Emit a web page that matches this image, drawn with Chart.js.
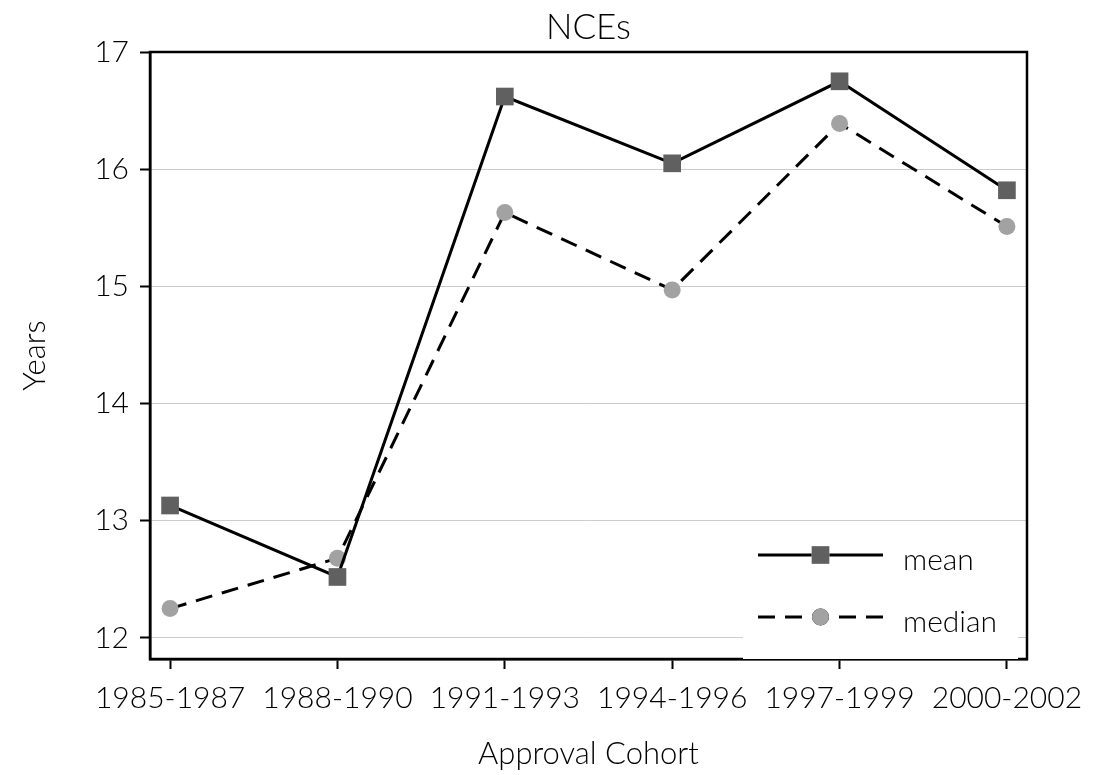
<!DOCTYPE html>
<html>
<head>
<meta charset="utf-8">
<script src="https://cdn.jsdelivr.net/npm/chart.js@4/dist/chart.umd.min.js"></script>
<style>
  html, body { margin: 0; padding: 0; background: #fff; }
  #wrap { width: 1112px; height: 775px; }
</style>
</head>
<body>
<div id="wrap"><canvas id="nceChart" width="1112" height="775"></canvas></div>
<script>
// Approval cohorts along the x axis
const cohorts = ['1985-1987', '1988-1990', '1991-1993', '1994-1996', '1997-1999', '2000-2002'];
// Development time in years
const meanYears = [13.13, 12.52, 16.62, 16.05, 16.75, 15.82];
const medianYears = [12.25, 12.68, 15.63, 14.97, 16.39, 15.51];
const yTicks = [12, 13, 14, 15, 16, 17];

const FONT = 'Lato, "Open Sans", sans-serif';

// box round the plot area + title centred over it
const frame = {
  id: 'frame',
  afterDatasetsDraw(chart) {
    const a = chart.chartArea;
    const c = chart.ctx;
    c.save();
    c.strokeStyle = '#000';
    c.lineWidth = 2.5;
    c.strokeRect(a.left, a.top, a.right - a.left, a.bottom - a.top);
    c.fillStyle = '#000';
    c.font = '300 35px ' + FONT;
    c.textAlign = 'center';
    c.textBaseline = 'alphabetic';
    c.fillText('NCEs', (a.left + a.right) / 2, 39);
    c.restore();
  }
};

// legend drawn inside the plot, bottom right, line + marker + label
const insideLegend = {
  id: 'insideLegend',
  afterDatasetsDraw(chart) {
    const a = chart.chartArea;
    const c = chart.ctx;
    const boxW = 275, boxH = 128;
    const bx = a.right - 9 - boxW, by = a.bottom - boxH;
    c.save();
    c.fillStyle = '#fff';
    c.fillRect(bx, by, boxW, boxH);
    chart.data.datasets.forEach((ds, i) => {
      const y = by + 24 + i * 62;
      const x0 = bx + 15, x1 = bx + 140;
      c.strokeStyle = ds.borderColor;
      c.lineWidth = ds.borderWidth;
      c.setLineDash(ds.borderDash || []);
      c.beginPath();
      c.moveTo(x0, y);
      c.lineTo(x1, y);
      c.stroke();
      c.setLineDash([]);
      Chart.helpers.drawPoint(c, {
        pointStyle: ds.pointStyle,
        radius: ds.pointRadius,
        borderWidth: 0
      }, (x0 + x1) / 2, y);
      c.fillStyle = ds.pointBackgroundColor;
      c.fill();
      c.fillStyle = '#000';
      c.font = '300 30px ' + FONT;
      c.textBaseline = 'alphabetic';
      c.textAlign = 'left';
      c.fillText(ds.label, bx + 160, y + 14.5);
    });
    c.restore();
  }
};

const ctx = document.getElementById('nceChart').getContext('2d');
const nceChart = new Chart(ctx, {
  type: 'line',
  data: {
    datasets: [
      {
        label: 'mean',
        data: meanYears.map((v, i) => ({ x: i, y: v })),
        borderColor: '#000',
        borderWidth: 3,
        pointStyle: 'rect',
        pointRadius: 12.5,
        pointHoverRadius: 12.5,
        pointBorderWidth: 0,
        pointBackgroundColor: '#606060',
        fill: false,
        tension: 0
      },
      {
        label: 'median',
        data: medianYears.map((v, i) => ({ x: i, y: v })),
        borderColor: '#000',
        borderWidth: 3,
        borderDash: [17, 10],
        pointStyle: 'circle',
        pointRadius: 8.5,
        pointHoverRadius: 8.5,
        pointBorderWidth: 0,
        pointBackgroundColor: '#a2a2a2',
        fill: false,
        tension: 0
      }
    ]
  },
  options: {
    responsive: false,
    animation: false,
    events: [],
    layout: { padding: { left: 0, right: 85, top: 52, bottom: 0 } },
    plugins: {
      legend: { display: false },
      tooltip: { enabled: false },
      title: { display: false }
    },
    scales: {
      x: {
        type: 'linear',
        min: -0.12,
        max: 5.12,
        afterBuildTicks: (scale) => { scale.ticks = cohorts.map((c, i) => ({ value: i })); },
        afterFit: (scale) => { scale.height = 116; },
        ticks: {
          callback: (value) => cohorts[value],
          color: '#000',
          font: { family: FONT, size: 30, weight: '300', lineHeight: 1.2 },
          padding: 11,
          maxRotation: 0,
          autoSkip: false
        },
        grid: { drawOnChartArea: false, drawTicks: true, tickLength: 10, tickColor: '#000', tickWidth: 2 },
        border: { display: true, color: '#000', width: 2.5 },
        title: {
          display: true,
          text: 'Approval Cohort',
          color: '#000',
          font: { family: FONT, size: 31, weight: '300', lineHeight: 1.2 },
          padding: { top: 0, bottom: 2 }
        }
      },
      y: {
        min: 11.82,
        max: 17,
        afterBuildTicks: (scale) => { scale.ticks = yTicks.map(v => ({ value: v })); },
        afterFit: (scale) => { scale.width = 150; },
        ticks: {
          color: '#000',
          font: { family: FONT, size: 30, weight: '300', lineHeight: 1.2 },
          padding: 11
        },
        grid: { color: '#cccccc', lineWidth: 1, drawTicks: true, tickLength: 10, tickColor: '#000', tickWidth: 2 },
        border: { display: true, color: '#000', width: 2.5 },
        title: {
          display: true,
          text: 'Years',
          color: '#000',
          font: { family: FONT, size: 31, weight: '300', lineHeight: 1.2 },
          padding: { top: 16.5, bottom: 0 }
        }
      }
    }
  },
  plugins: [frame, insideLegend]
});
</script>
</body>
</html>
